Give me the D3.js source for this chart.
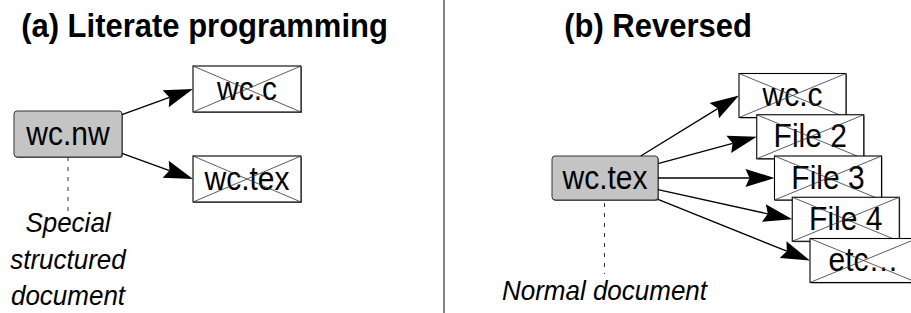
<!DOCTYPE html>
<html>
<head>
<meta charset="utf-8">
<script src="https://cdn.jsdelivr.net/npm/d3@7"></script>
<style>
  body { margin: 0; background: #fff; }
  svg { display: block; }
  text { font-family: "Liberation Sans", Arial, sans-serif; fill: #000; }
</style>
</head>
<body>
<div id="target"></div>
<script>
var WIDTH = 911, HEIGHT = 313;
var STRETCH = 1.08; // reference glyphs look slightly taller than Liberation Sans

// diagram content
var titles = ["(a) Literate programming", "(b) Reversed"];
var leftSource = "wc.nw";
var leftTargets = ["wc.c", "wc.tex"];
var leftCaption = ["Special", "structured", "document"];
var rightSource = "wc.tex";
var rightTargets = ["wc.c", "File 2", "File 3", "File 4", "etc…"];
var rightCaption = ["Normal document"];

var svg = d3.select("#target").append("svg").attr("width", WIDTH).attr("height", HEIGHT);

// layout scales
var leftY = d3.scalePoint().domain(leftTargets).range([89, 179]);
var rightX = d3.scalePoint().domain(rightTargets).range([739, 810]);
var rightY = d3.scalePoint().domain(rightTargets).range([95.5, 260.5]);

// text placed at (x, baseline) with a small vertical stretch
var label = function(parent, x, y, str) {
  return parent.append("text")
    .attr("transform", "translate(" + x + "," + y + ") scale(1," + STRETCH + ")")
    .attr("text-anchor", "middle")
    .text(str);
};

// divider
svg.append("line")
  .attr("x1", 444).attr("x2", 444)
  .attr("y1", 0).attr("y2", HEIGHT)
  .attr("stroke", "#333").attr("stroke-width", 1.2);

// titles
label(svg, 204.5, 37, titles[0]).attr("font-size", 31).attr("font-weight", "bold");
label(svg, 658, 37, titles[1]).attr("font-size", 31).attr("font-weight", "bold");

var sourceBox = function(name, cx, cy, w, h) {
  var g = svg.append("g");
  g.append("rect")
    .attr("x", cx - w / 2 + 1).attr("y", cy - h / 2 + 1)
    .attr("width", w).attr("height", h).attr("rx", 3)
    .attr("fill", "#666");
  g.append("rect")
    .attr("x", cx - w / 2).attr("y", cy - h / 2)
    .attr("width", w).attr("height", h).attr("rx", 3)
    .attr("fill", "#c4c4c4").attr("stroke", "#333").attr("stroke-width", 1);
  label(g, cx, cy + 10.8, name).attr("font-size", 30);
  return { cx: cx, cy: cy, hw: w / 2, hh: h / 2 };
};

var fileBox = function(name, x, cy, w, h) {
  var y = cy - h / 2;
  var g = svg.append("g");
  g.append("rect")
    .attr("x", x + 1).attr("y", y + 1)
    .attr("width", w).attr("height", h).attr("fill", "#888");
  g.append("rect")
    .attr("x", x).attr("y", y)
    .attr("width", w).attr("height", h)
    .attr("fill", "#fff").attr("stroke", "#000").attr("stroke-width", 1.1);
  label(g, x + w / 2, cy + 10.5, name).attr("font-size", 30);
  g.append("path")
    .attr("d", "M" + x + "," + y + "L" + (x + w) + "," + (y + h) +
               "M" + x + "," + (y + h) + "L" + (x + w) + "," + y)
    .attr("stroke", "#333").attr("stroke-width", 0.8).attr("fill", "none");
};

// arrow from source center, clipped at its box, to a point
var arrow = function(src, tx, ty) {
  var dx = tx - src.cx, dy = ty - src.cy;
  var t = Math.min(dx !== 0 ? src.hw / Math.abs(dx) : Infinity, dy !== 0 ? src.hh / Math.abs(dy) : Infinity);
  var sx = src.cx + dx * t, sy = src.cy + dy * t;
  var len = Math.sqrt((tx - sx) * (tx - sx) + (ty - sy) * (ty - sy));
  var ux = (tx - sx) / len, uy = (ty - sy) / len;
  var headLen = 29, headW = 9, notch = 4;
  var bx = tx - ux * headLen, by = ty - uy * headLen;
  var nx = tx - ux * (headLen - notch), ny = ty - uy * (headLen - notch);
  svg.append("line")
    .attr("x1", sx).attr("y1", sy).attr("x2", nx).attr("y2", ny)
    .attr("stroke", "#000").attr("stroke-width", 1.3);
  svg.append("path")
    .attr("d", "M" + tx + "," + ty +
      "L" + (bx - uy * headW) + "," + (by + ux * headW) +
      "L" + nx + "," + ny +
      "L" + (bx + uy * headW) + "," + (by - ux * headW) + "Z")
    .attr("fill", "#000");
};

// ---- left panel ----
var ls = sourceBox(leftSource, 68, 134, 108, 46);
leftTargets.forEach(function(name) {
  arrow(ls, 193, leftY(name));
});
leftTargets.forEach(function(name) {
  fileBox(name, 193, leftY(name), 108, 46);
});
svg.append("line")
  .attr("x1", 68).attr("x2", 68).attr("y1", 157).attr("y2", 211)
  .attr("stroke", "#333").attr("stroke-width", 1).attr("stroke-dasharray", "4,6");
leftCaption.forEach(function(d, i) {
  label(svg, 68, 232 + i * 36.5, d).attr("font-size", 26).attr("font-style", "italic");
});

// ---- right panel ----
var rs = sourceBox(rightSource, 605, 178, 106, 44);
rightTargets.forEach(function(name) {
  arrow(rs, rightX(name), rightY(name));
});
rightTargets.forEach(function(name) {
  fileBox(name, rightX(name), rightY(name), 107, 44);
});
svg.append("line")
  .attr("x1", 604.5).attr("x2", 604.5).attr("y1", 203).attr("y2", 274)
  .attr("stroke", "#333").attr("stroke-width", 1).attr("stroke-dasharray", "4,6");
rightCaption.forEach(function(d) {
  label(svg, 604.5, 300, d).attr("font-size", 26).attr("font-style", "italic");
});
</script>
</body>
</html>
